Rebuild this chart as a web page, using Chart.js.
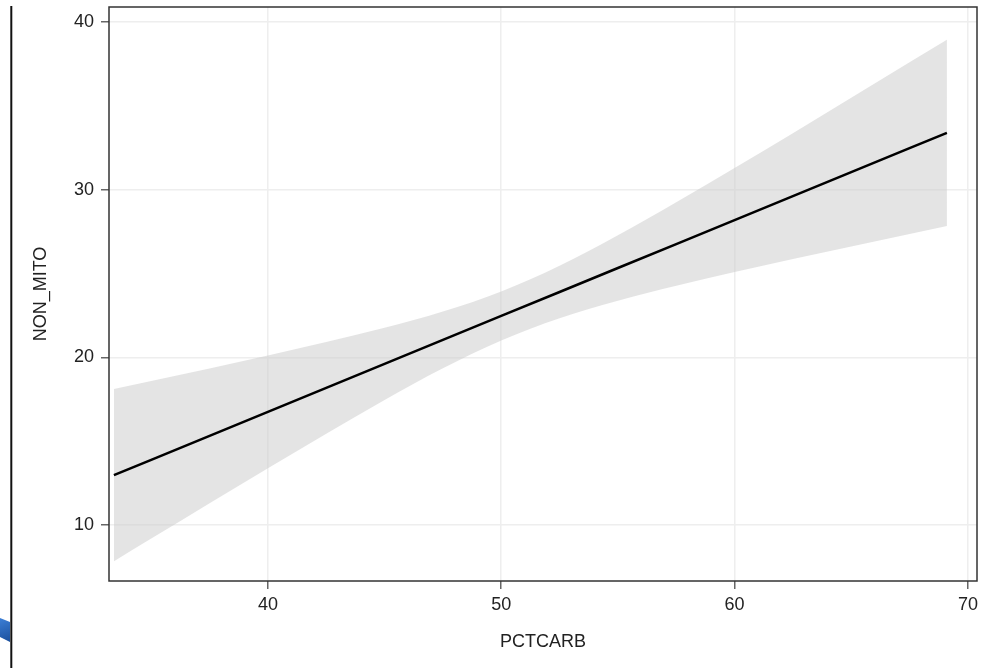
<!DOCTYPE html>
<html>
<head>
<meta charset="utf-8">
<script src="https://cdn.jsdelivr.net/npm/chart.js@4/dist/chart.umd.min.js"></script>
<style>
  body { margin: 0; background: #fff; }
  canvas { display: block; }
</style>
</head>
<body>
<canvas id="chart-fit" width="984" height="668"></canvas>
<script>
const xLabel = "PCTCARB";
const yLabel = "NON_MITO";

const pctcarb = [33.4, 35, 37.5, 40, 42.5, 45, 47.5, 50, 52.5, 55, 57.5, 60, 62.5, 65, 67.5, 69.1];
const fitLine = [12.97, 13.89, 15.32, 16.75, 18.18, 19.61, 21.04, 22.47, 23.9, 25.33, 26.76, 28.19, 29.62, 31.05, 32.48, 33.39];
const upperCL = [18.11, 18.59, 19.34, 20.11, 20.91, 21.76, 22.73, 23.93, 25.46, 27.28, 29.25, 31.29, 33.37, 35.48, 37.6, 38.95];
const lowerCL = [7.83, 9.19, 11.3, 13.39, 15.45, 17.46, 19.35, 21.01, 22.34, 23.38, 24.27, 25.09, 25.87, 26.62, 27.36, 27.83];

const xTicks = [40, 50, 60, 70];
const yTicks = [10, 20, 30, 40];

const pts = (ys) => pctcarb.map((x, i) => ({ x: x, y: ys[i] }));

const font = { family: "'Liberation Sans', Arial, sans-serif", size: 18 };
const textColor = "#222";

// frame round the plot area plus the stray page bits at the left edge
const framePlugin = {
  id: "frame",
  afterDraw(chart) {
    const c = chart.ctx;
    const a = chart.chartArea;
    c.save();
    c.strokeStyle = "#333";
    c.lineWidth = 1.5;
    c.strokeRect(a.left, a.top, a.right - a.left, a.bottom - a.top);

    const g = c.createLinearGradient(0, 618, 10, 642);
    g.addColorStop(0, "#3c7fd6");
    g.addColorStop(1, "#1a4f9c");
    c.fillStyle = g;
    c.beginPath();
    c.moveTo(0, 618);
    c.lineTo(10, 622);
    c.lineTo(10, 642);
    c.lineTo(0, 637);
    c.closePath();
    c.fill();

    c.strokeStyle = "#111";
    c.lineWidth = 2;
    c.beginPath();
    c.moveTo(11.3, 6);
    c.lineTo(11.3, 668);
    c.stroke();
    c.restore();
  },
};

new Chart(document.getElementById("chart-fit"), {
  type: "line",
  data: {
    datasets: [
      {
        label: "upper",
        data: pts(upperCL),
        borderWidth: 0,
        pointRadius: 0,
        cubicInterpolationMode: "monotone",
        fill: "+1",
        backgroundColor: "rgba(201, 201, 201, 0.5)",
        order: 2,
      },
      {
        label: "lower",
        data: pts(lowerCL),
        borderWidth: 0,
        pointRadius: 0,
        cubicInterpolationMode: "monotone",
        fill: false,
        order: 2,
      },
      {
        label: "fit",
        data: pts(fitLine),
        borderColor: "#000",
        borderWidth: 2.5,
        pointRadius: 0,
        fill: false,
        order: 1,
      },
    ],
  },
  options: {
    responsive: false,
    animation: false,
    layout: { padding: { left: 0, top: 7, right: 7, bottom: 0 } },
    plugins: {
      legend: { display: false },
      tooltip: { enabled: false },
    },
    scales: {
      x: {
        type: "linear",
        min: 33.19,
        max: 70.39,
        afterBuildTicks: (s) => {
          s.ticks = xTicks.map((v) => ({ value: v }));
        },
        afterFit: (s) => {
          s.height = 87;
          s.paddingLeft = 0;
          s.paddingRight = 0;
        },
        border: { display: false },
        grid: { color: "#eeeeee", tickColor: "#666", tickLength: 8, lineWidth: 1.5 },
        ticks: { font: font, color: textColor, padding: 5, maxRotation: 0 },
        title: {
          display: true,
          text: xLabel,
          font: font,
          color: textColor,
          padding: { top: 0, bottom: 15 },
        },
      },
      y: {
        type: "linear",
        min: 6.66,
        max: 40.9,
        afterBuildTicks: (s) => {
          s.ticks = yTicks.map((v) => ({ value: v }));
        },
        afterFit: (s) => {
          s.width = 109;
          s.paddingTop = 0;
          s.paddingBottom = 0;
        },
        border: { display: false },
        grid: { color: "#eeeeee", tickColor: "#666", tickLength: 8, lineWidth: 1.5 },
        ticks: { font: font, color: textColor, padding: 7 },
        title: {
          display: true,
          text: yLabel,
          font: font,
          color: textColor,
          padding: { top: 30, bottom: 0 },
        },
      },
    },
  },
  plugins: [framePlugin],
});
</script>
</body>
</html>
